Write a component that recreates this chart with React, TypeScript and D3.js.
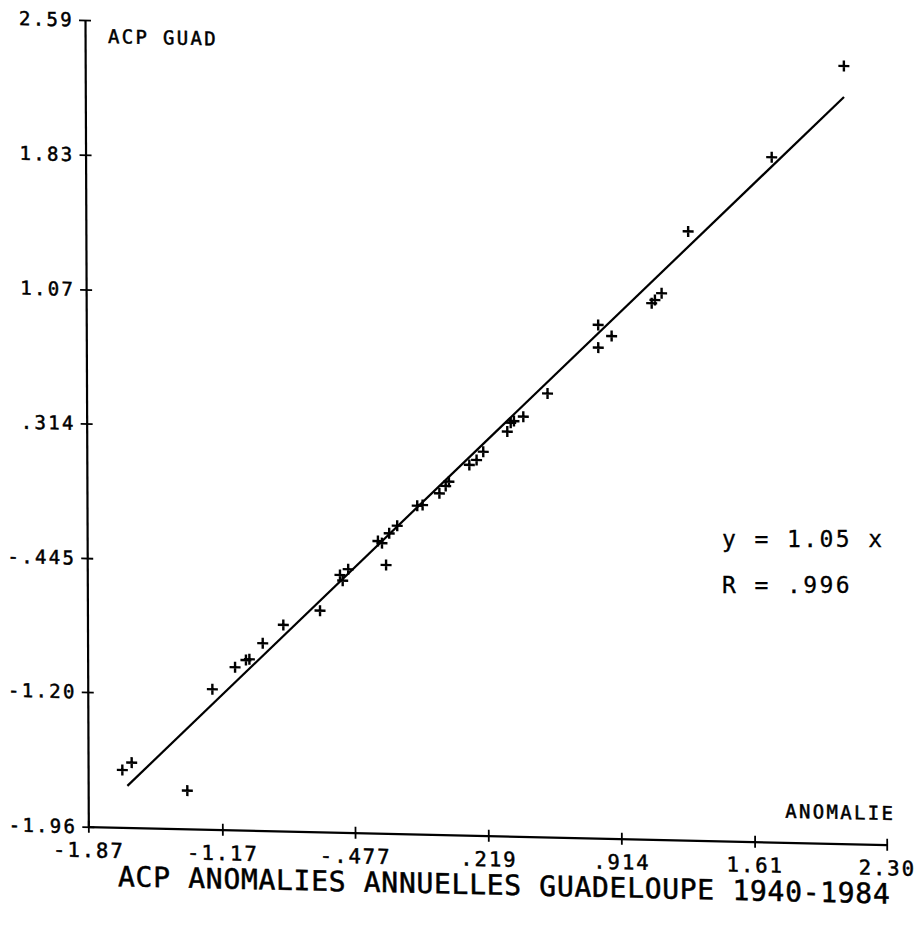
import React, { useRef, useEffect } from "react";
import * as d3 from "d3";

// axis ticks as printed by the plotter
const xTicks = [-1.87, -1.17, -0.477, 0.219, 0.914, 1.61, 2.3];
const xTickLabels = ["-1.87", "-1.17", "-.477", ".219", ".914", "1.61", "2.30"];
const yTicks = [-1.96, -1.2, -0.445, 0.314, 1.07, 1.83, 2.59];
const yTickLabels = ["-1.96", "-1.20", "-.445", ".314", "1.07", "1.83", "2.59"];

// yearly anomalies (x = ANOMALIE, y = ACP GUAD)
const pointsX = [
  -1.691, -1.642, -1.352, -1.219, -1.1, -1.043, -1.025, -0.955, -0.847, -0.655,
  -0.55, -0.507, -0.536, -0.309, -0.351, -0.33, -0.292, -0.25, -0.145, -0.117,
  -0.029, 0.004, 0.021, 0.128, 0.166, 0.201, 0.327, 0.345, 0.362, 0.411,
  0.538, 0.804, 0.874, 0.804, 1.084, 1.101, 1.136, 1.276, 1.714, 2.093,
];
const pointsY = [
  -1.636, -1.593, -1.744, -1.169, -1.042, -1.0, -0.995, -0.903, -0.797, -0.712,
  -0.508, -0.475, -0.54, -0.446, -0.312, -0.323, -0.267, -0.223, -0.108, -0.103,
  -0.035, 0.007, 0.032, 0.129, 0.158, 0.205, 0.322, 0.372, 0.382, 0.408,
  0.542, 0.935, 0.874, 0.807, 1.064, 1.083, 1.122, 1.474, 1.903, 2.427,
];

// fitted line end points
const fitX = [-1.665, 2.093];
const fitY = [-1.725, 2.252];

const App = () => {
  const ref = useRef<SVGSVGElement>(null);

  useEffect(() => {
    const svg = d3.select(ref.current);
    svg.selectAll("*").remove();

    const plotW = 798.4;
    const plotH = 806.7;
    const ink = "#000";
    const font = "'DejaVu Sans Mono', monospace";

    const x = d3.scaleLinear().domain([-1.87, 2.3]).range([0, plotW]);
    const y = d3.scaleLinear().domain([-1.96, 2.59]).range([plotH, 0]);

    // the scanned sheet is slightly skewed
    const g = svg
      .append("g")
      .attr("transform", "matrix(1 0.0225 0.0041 1 85 20)");

    // y axis
    const yAxis = g
      .append("g")
      .call(
        d3
          .axisLeft(y)
          .tickValues(yTicks)
          .tickFormat((d, i) => yTickLabels[i])
          .tickSize(6)
          .tickSizeOuter(0)
          .tickPadding(5)
      );
    yAxis.select(".domain").attr("stroke", ink).attr("stroke-width", 2.2);
    yAxis.selectAll(".tick line").attr("x1", -6).attr("x2", 6).attr("stroke", ink).attr("stroke-width", 1.8);
    yAxis
      .selectAll(".tick text")
      .attr("fill", ink)
      .attr("stroke", ink)
      .attr("stroke-width", 0.5)
      .style("font-family", font)
      .style("font-size", "19px")
      .style("letter-spacing", "2.3px");

    // x axis
    const xAxis = g
      .append("g")
      .attr("transform", `translate(0,${plotH})`)
      .call(
        d3
          .axisBottom(x)
          .tickValues(xTicks)
          .tickFormat((d, i) => xTickLabels[i])
          .tickSize(6)
          .tickSizeOuter(0)
          .tickPadding(10)
      );
    xAxis.select(".domain").attr("stroke", ink).attr("stroke-width", 2.2);
    xAxis.selectAll(".tick line").attr("y1", -6).attr("y2", 6).attr("stroke", ink).attr("stroke-width", 1.8);
    xAxis
      .selectAll(".tick text")
      .attr("fill", ink)
      .attr("stroke", ink)
      .attr("stroke-width", 0.5)
      .style("font-family", font)
      .style("font-size", "20.5px")
      .style("letter-spacing", "2px");
    svg.selectAll(".domain").attr("fill", "none");

    // fitted line
    g.append("path")
      .datum(fitX.map((d, i) => [d, fitY[i]] as [number, number]))
      .attr("fill", "none")
      .attr("stroke", ink)
      .attr("stroke-width", 2.2)
      .attr("d", d3.line<[number, number]>().x((d) => x(d[0])).y((d) => y(d[1])));

    // crosses
    g.selectAll(".pt")
      .data(pointsX.map((d, i) => [d, pointsY[i]]))
      .enter()
      .append("path")
      .attr("class", "pt")
      .attr("transform", (d) => `translate(${x(d[0])},${y(d[1])})`)
      .attr("d", "M-5.5,0H5.5M0,-5.5V5.5")
      .attr("stroke", ink)
      .attr("stroke-width", 2.4)
      .attr("fill", "none");

    // axis names and title
    const label = (sel: any, size: string, spacing: string) =>
      sel
        .attr("fill", ink)
        .attr("stroke", ink)
        .attr("stroke-width", 0.5)
        .style("font-family", font)
        .style("font-size", size)
        .style("letter-spacing", spacing);

    label(g.append("text").attr("x", 23).attr("y", 22.5), "19px", "2.3px").text("ACP GUAD");

    label(
      g.append("text").attr("x", 807).attr("y", 782).attr("text-anchor", "end"),
      "19px",
      "2.3px"
    ).text("ANOMALIE");

    label(g.append("text").attr("x", 29.5).attr("y", 865.5), "28px", "0.7px").text(
      "ACP ANOMALIES ANNUELLES GUADELOUPE 1940-1984"
    );

    // regression text (typed on, not skewed)
    label(svg.append("text").attr("x", 722).attr("y", 546.5), "23px", "2.4px")
      .style("white-space", "pre")
      .attr("stroke-width", 0.3)
      .text("y = 1.05 x");
    label(svg.append("text").attr("x", 722).attr("y", 593.3), "23px", "2.4px")
      .style("white-space", "pre")
      .attr("stroke-width", 0.3)
      .text("R = .996");
  }, []);

  return (
    <svg
      ref={ref}
      width={917}
      height={932}
      style={{ position: "absolute", left: 0, top: 0, background: "#fff", display: "block" }}
    ></svg>
  );
};

export default App;
